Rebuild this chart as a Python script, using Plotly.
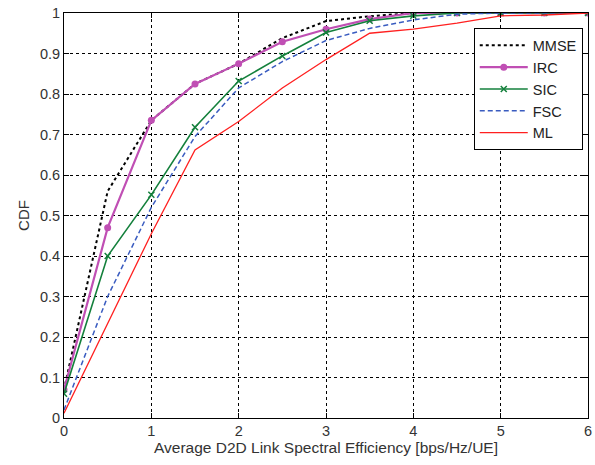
import plotly.graph_objects as go

x = [0, 0.5, 1, 1.5, 2, 2.5, 3, 3.5, 4, 4.5, 5, 5.5, 6]
mmse = [0.07, 0.56, 0.735, 0.825, 0.875, 0.938, 0.98, 0.992, 1.0, 1.0, 1.0, 1.0, 1.0]
irc = [0.07, 0.47, 0.735, 0.825, 0.875, 0.929, 0.96, 0.985, 1.0, 1.0, 1.0, 1.0, 1.0]
sic = [0.06, 0.40, 0.551, 0.718, 0.832, 0.894, 0.952, 0.981, 0.993, 1.0, 1.0, 1.0, 1.0]
fsc = [0.02, 0.30, 0.52, 0.695, 0.815, 0.88, 0.932, 0.962, 0.983, 0.997, 1.0, 1.0, 1.0]
ml = [0.012, 0.233, 0.455, 0.662, 0.732, 0.815, 0.885, 0.95, 0.96, 0.975, 0.993, 0.995, 1.0]

x_ticks = [0, 1, 2, 3, 4, 5, 6]
y_ticks = [0, 0.1, 0.2, 0.3, 0.4, 0.5, 0.6, 0.7, 0.8, 0.9, 1]
y_tick_labels = ["0", "0.1", "0.2", "0.3", "0.4", "0.5", "0.6", "0.7", "0.8", "0.9", "1"]

FONT = "Liberation Sans, Arial, Helvetica"

fig = go.Figure()
fig.add_trace(go.Scatter(x=x, y=mmse, name="MMSE", mode="lines",
                         line=dict(color="black", width=2, dash="dot")))
fig.add_trace(go.Scatter(x=x, y=irc, name="IRC", mode="lines+markers",
                         line=dict(color="#c04fb4", width=2.2),
                         marker=dict(symbol="circle", size=7, color="#c04fb4")))
fig.add_trace(go.Scatter(x=x, y=sic, name="SIC", mode="lines+markers",
                         line=dict(color="#14803c", width=1.6),
                         marker=dict(symbol="x-thin", size=6, color="#14803c",
                                     line=dict(color="#14803c", width=1.5))))
fig.add_trace(go.Scatter(x=x, y=fsc, name="FSC", mode="lines",
                         line=dict(color="#3a5cc0", width=1.5, dash="5px,3px")))
fig.add_trace(go.Scatter(x=x, y=ml, name="ML", mode="lines",
                         line=dict(color="#ff2020", width=1.3)))

axis_common = dict(
    showline=True, linecolor="black", linewidth=1, mirror="ticks",
    ticks="inside", ticklen=5, tickcolor="black",
    showgrid=True, gridcolor="black", gridwidth=1, griddash="3px,3px",
    zeroline=False, automargin=False, ticklabeloverflow="allow",
    tickfont=dict(family=FONT, size=14.5, color="#333333"),
)

fig.update_xaxes(range=[0, 6], tickvals=x_ticks,
                 title=dict(text="Average D2D Link Spectral Efficiency [bps/Hz/UE]",
                            font=dict(family=FONT, size=15.5, color="#333333"),
                            standoff=2),
                 **axis_common)
fig.update_yaxes(range=[0, 1], tickvals=y_ticks, ticktext=y_tick_labels,
                 title=dict(text="CDF",
                            font=dict(family=FONT, size=15, color="#333333"),
                            standoff=6),
                 **axis_common)

fig.update_layout(
    width=595, height=465,
    margin=dict(l=64, r=7, t=13, b=47),
    paper_bgcolor="white", plot_bgcolor="white",
    showlegend=True,
    legend=dict(x=0.99, y=0.962, xanchor="right", yanchor="top",
                bgcolor="white", bordercolor="black", borderwidth=1,
                font=dict(family=FONT, size=14.5, color="#222222"),
                tracegroupgap=0, itemwidth=48),
)

# remove the page body's default 8px margin so the figure fills the window
fig.write_html("out.html",
               config={"displayModeBar": False},
               post_script="document.body.style.margin='0';document.body.style.overflow='hidden';")
